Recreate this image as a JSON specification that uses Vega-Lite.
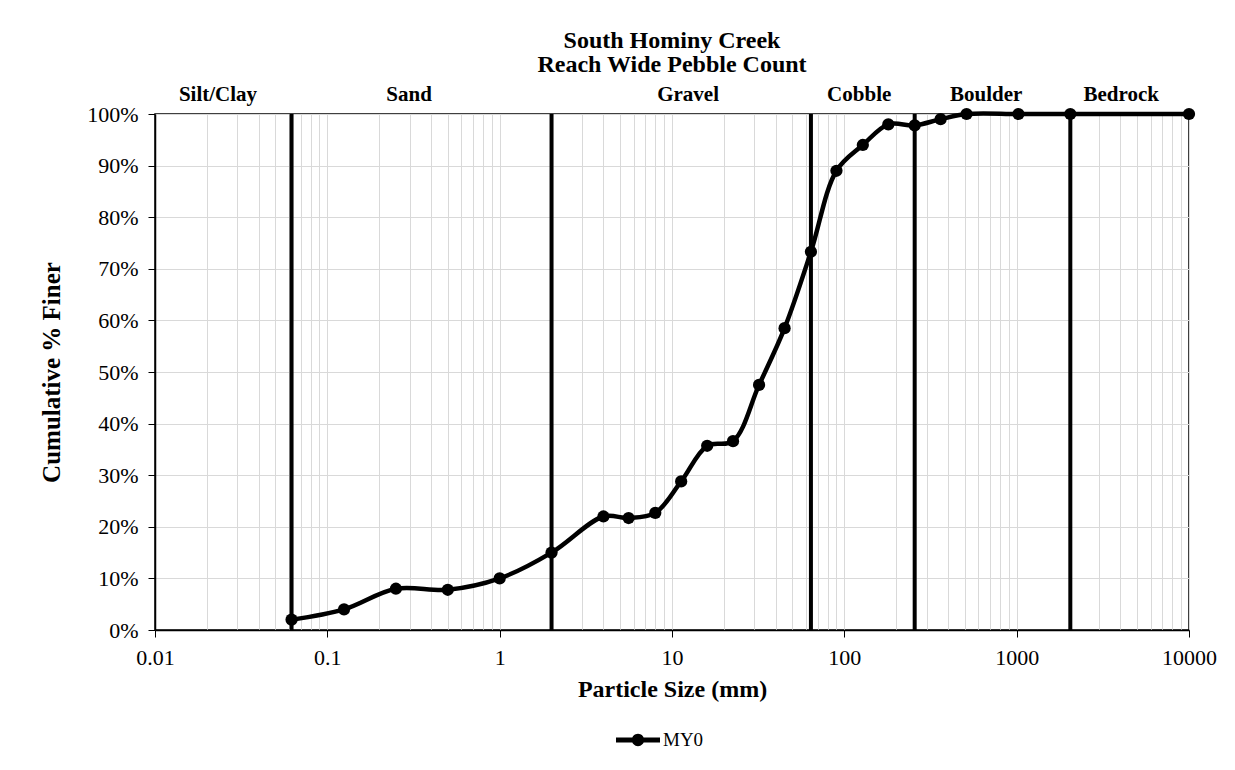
{
  "$schema": "https://vega.github.io/schema/vega-lite/v6.json",
  "width": 1034,
  "height": 516,
  "autosize": {"type": "none"},
  "padding": {"left": 155, "top": 114, "right": 46, "bottom": 140},
  "background": "white",
  "title": {
    "text": ["South Hominy Creek", "Reach Wide Pebble Count"],
    "font": "Liberation Serif",
    "fontSize": 24,
    "fontWeight": "bold",
    "color": "black",
    "anchor": "middle",
    "frame": "group",
    "lineHeight": 24,
    "offset": 7
  },
  "datasets": {
    "pebbles": [
      {"size": 0.062, "finer": 0.02, "series": "MY0"},
      {"size": 0.125, "finer": 0.04, "series": "MY0"},
      {"size": 0.25, "finer": 0.08, "series": "MY0"},
      {"size": 0.5, "finer": 0.078, "series": "MY0"},
      {"size": 1, "finer": 0.10, "series": "MY0"},
      {"size": 2, "finer": 0.15, "series": "MY0"},
      {"size": 4, "finer": 0.22, "series": "MY0"},
      {"size": 5.6, "finer": 0.217, "series": "MY0"},
      {"size": 8, "finer": 0.227, "series": "MY0"},
      {"size": 11.3, "finer": 0.288, "series": "MY0"},
      {"size": 16, "finer": 0.357, "series": "MY0"},
      {"size": 22.6, "finer": 0.366, "series": "MY0"},
      {"size": 32, "finer": 0.475, "series": "MY0"},
      {"size": 45, "finer": 0.585, "series": "MY0"},
      {"size": 64, "finer": 0.733, "series": "MY0"},
      {"size": 90, "finer": 0.89, "series": "MY0"},
      {"size": 128, "finer": 0.94, "series": "MY0"},
      {"size": 180, "finer": 0.98, "series": "MY0"},
      {"size": 256, "finer": 0.978, "series": "MY0"},
      {"size": 362, "finer": 0.99, "series": "MY0"},
      {"size": 512, "finer": 1.0, "series": "MY0"},
      {"size": 1024, "finer": 1.0, "series": "MY0"},
      {"size": 2048, "finer": 1.0, "series": "MY0"},
      {"size": 10000, "finer": 1.0, "series": "MY0"}
    ],
    "boundaries": [
      {"size": 0.062},
      {"size": 2},
      {"size": 64},
      {"size": 256},
      {"size": 2048}
    ],
    "classes": [
      {"name": "Silt/Clay", "size": 0.0232, "finer": 1.025},
      {"name": "Sand", "size": 0.298, "finer": 1.025},
      {"name": "Gravel", "size": 12.4, "finer": 1.025},
      {"name": "Cobble", "size": 122, "finer": 1.025},
      {"name": "Boulder", "size": 665, "finer": 1.025},
      {"name": "Bedrock", "size": 4045, "finer": 1.025}
    ]
  },
  "encoding": {
    "x": {
      "field": "size",
      "type": "quantitative",
      "scale": {"type": "log", "domain": [0.01, 10000], "nice": false},
      "axis": {
        "title": "Particle Size (mm)",
        "titleFontSize": 24,
        "values": [0.01, 0.02, 0.03, 0.04, 0.05, 0.06, 0.07, 0.08, 0.09,
                   0.1, 0.2, 0.3, 0.4, 0.5, 0.6, 0.7, 0.8, 0.9,
                   1, 2, 3, 4, 5, 6, 7, 8, 9,
                   10, 20, 30, 40, 50, 60, 70, 80, 90,
                   100, 200, 300, 400, 500, 600, 700, 800, 900,
                   1000, 2000, 3000, 4000, 5000, 6000, 7000, 8000, 9000, 10000],
        "labelExpr": "abs(log(datum.value) / LN10 - round(log(datum.value) / LN10)) < 1e-6 ? toString(datum.value) : ''",
        "tickOpacity": {
          "condition": {"test": "abs(log(datum.value) / LN10 - round(log(datum.value) / LN10)) < 1e-6", "value": 1},
          "value": 0
        },
        "grid": true,
        "gridColor": "#d9d9d9",
        "gridWidth": 1,
        "labelOverlap": false,
        "labelFlush": false,
        "labelBound": false,
        "tickSize": 7,
        "labelPadding": 10,
        "titlePadding": 9
      }
    }
  },
  "layer": [
    {
      "data": {"name": "boundaries"},
      "mark": {"type": "rule", "color": "black", "strokeWidth": 4}
    },
    {
      "data": {"name": "pebbles"},
      "mark": {"type": "line", "color": "black", "strokeWidth": 4.5, "interpolate": "catmull-rom"},
      "encoding": {
        "y": {
          "field": "finer",
          "type": "quantitative",
          "scale": {"domain": [0, 1], "nice": false},
          "axis": {
            "title": "Cumulative % Finer",
            "titleFontSize": 25,
            "values": [0, 0.1, 0.2, 0.3, 0.4, 0.5, 0.6, 0.7, 0.8, 0.9, 1],
            "format": ".0%",
            "grid": true,
            "gridColor": "#d9d9d9",
            "tickSize": 7,
            "labelPadding": 10,
            "titlePadding": 22
          }
        }
      }
    },
    {
      "data": {"name": "pebbles"},
      "mark": {"type": "point", "filled": true, "size": 150, "opacity": 1},
      "encoding": {
        "y": {"field": "finer", "type": "quantitative"},
        "color": {
          "field": "series",
          "type": "nominal",
          "scale": {"domain": ["MY0"], "range": ["black"]},
          "legend": {
            "title": null,
            "orient": "none",
            "legendX": 461,
            "legendY": 604,
            "padding": 0,
            "symbolType": "M-1,-0.11H-0.25V0.11H-1Z M0.25,-0.11H1V0.11H0.25Z M0.28,0A0.28,0.28 0 1,1 -0.28,0A0.28,0.28 0 1,1 0.28,0Z",
            "symbolSize": 1936,
            "symbolFillColor": "black",
            "symbolStrokeWidth": 0,
            "symbolOpacity": 1,
            "labelFont": "Liberation Serif",
            "labelFontSize": 19,
            "labelColor": "black",
            "labelOffset": 3
          }
        }
      }
    },
    {
      "data": {"name": "classes"},
      "mark": {
        "type": "text",
        "font": "Liberation Serif",
        "fontSize": 21,
        "fontWeight": "bold",
        "color": "black",
        "baseline": "alphabetic",
        "align": "center"
      },
      "encoding": {
        "y": {"field": "finer", "type": "quantitative"},
        "text": {"field": "name"}
      }
    }
  ],
  "config": {
    "view": {"stroke": "black", "strokeWidth": 1.5},
    "axis": {
      "labelFont": "Liberation Serif",
      "labelFontSize": 22,
      "labelColor": "black",
      "titleFont": "Liberation Serif",
      "titleFontSize": 23,
      "titleFontWeight": "bold",
      "titleColor": "black",
      "domainColor": "black",
      "domainWidth": 1.5,
      "tickColor": "black",
      "tickWidth": 1
    }
  }
}
